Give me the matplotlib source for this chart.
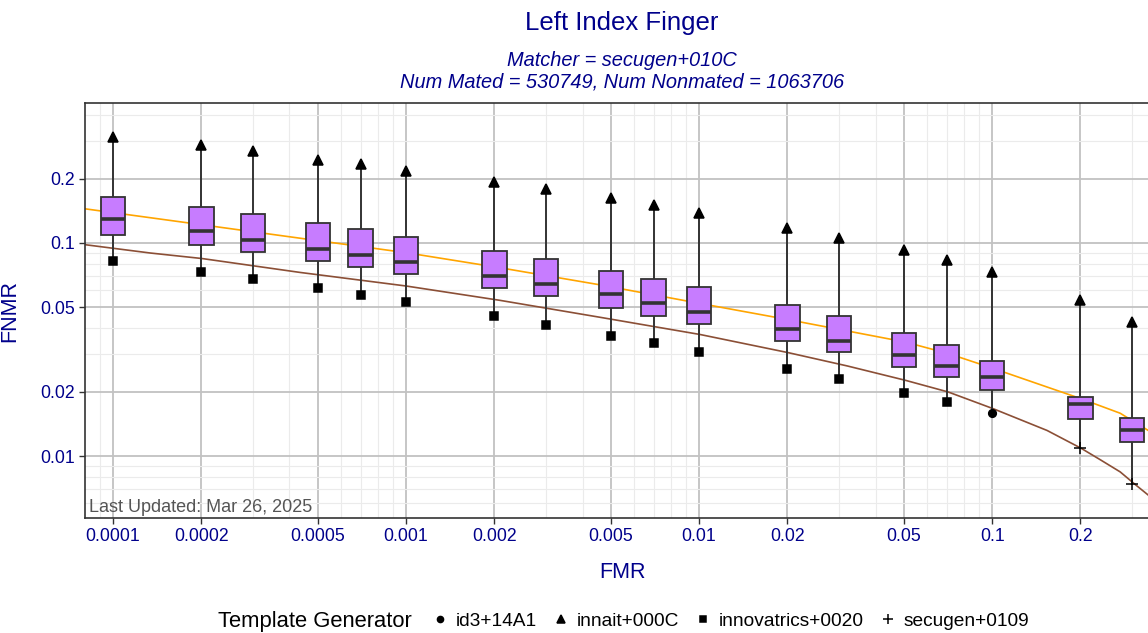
import numpy as np
import matplotlib
matplotlib.use('Agg')
import matplotlib.pyplot as plt
from matplotlib.patches import Rectangle
from matplotlib.lines import Line2D
from matplotlib.ticker import FixedLocator, NullFormatter

plt.rcParams['font.family'] = ['Liberation Sans', 'DejaVu Sans']

# FNMR summary per FMR threshold (across template generators)
fmr = [0.0001, 0.0002, 0.0003, 0.0005, 0.0007, 0.001, 0.002, 0.003, 0.005,
       0.007, 0.01, 0.02, 0.03, 0.05, 0.07, 0.1, 0.2, 0.3]
worst = [0.314, 0.287, 0.269, 0.246, 0.234, 0.218, 0.193, 0.179, 0.162,
         0.150, 0.138, 0.118, 0.106, 0.0924, 0.0830, 0.0727, 0.0539, 0.0426]
q3 = [0.164, 0.147, 0.136, 0.124, 0.116, 0.107, 0.0914, 0.0839, 0.0737,
      0.0681, 0.0620, 0.0511, 0.0453, 0.0379, 0.0332, 0.0278, 0.0189, 0.0151]
med = [0.130, 0.114, 0.103, 0.0937, 0.0882, 0.0815, 0.0700, 0.0642, 0.0575,
       0.0522, 0.0475, 0.0393, 0.0346, 0.0298, 0.0266, 0.0235, 0.0176, 0.0133]
q1 = [0.1095, 0.0983, 0.0907, 0.0827, 0.0769, 0.0716, 0.0615, 0.0561, 0.0496,
      0.0455, 0.0416, 0.0345, 0.0308, 0.0261, 0.0234, 0.0205, 0.0150, 0.0116]
best = [0.0823, 0.0731, 0.0678, 0.0615, 0.0571, 0.0529, 0.0455, 0.0411, 0.0365,
        0.0340, 0.0308, 0.0257, 0.0230, 0.0198, 0.0180, 0.0160, 0.0109, 0.00737]
worst_gen = ['innait+000C'] * 18
best_gen = ['innovatrics+0020'] * 15 + ['id3+14A1', 'secugen+0109', 'secugen+0109']

# reference curves
orange_fmr = [8.03e-5, 1.98e-4, 4.35e-4, 1e-3, 2.09e-3, 4.59e-3, 1.008e-2, 2.01e-2,
              5.05e-2, 7.08e-2, 0.1008, 0.154, 0.201, 0.2735, 0.341]
orange_fnmr = [0.1445, 0.1220, 0.1052, 0.0900, 0.0765, 0.0636, 0.0520, 0.0437,
               0.0343, 0.0303, 0.0258, 0.0211, 0.0186, 0.0159, 0.0132]
brown_fmr = [8.03e-5, 1.337e-4, 2.01e-4, 4.35e-4, 1e-3, 2.09e-3, 4.59e-3, 1.008e-2,
             2.01e-2, 3.2e-2, 5.05e-2, 7.08e-2, 0.1008, 0.154, 0.201,
             0.2337, 0.2735, 0.3076, 0.341]
brown_fnmr = [0.0981, 0.0897, 0.0845, 0.0727, 0.0628, 0.0538, 0.0448, 0.0372,
              0.0306, 0.0265, 0.0227, 0.0200, 0.0167, 0.0132, 0.0109,
              0.00963, 0.00844, 0.00737, 0.00657]

generators = ['id3+14A1', 'innait+000C', 'innovatrics+0020', 'secugen+0109']
markers = {'id3+14A1': ('o', 5.5), 'innait+000C': ('^', 7.5),
           'innovatrics+0020': ('s', 5.5), 'secugen+0109': ('+', 9)}

navy = '#00008B'
edge = '#333333'
fig = plt.figure(figsize=(11.48, 6.33), dpi=100)
ax = fig.add_axes([85 / 1148, 115 / 633, 1075 / 1148, 415 / 633])
ax.set_xscale('log')
ax.set_yscale('log')
ax.set_xlim(8.02e-5, 0.374)
ax.set_ylim(0.00513, 0.453)

# grid
xmaj = [1e-4, 2e-4, 5e-4, 1e-3, 2e-3, 5e-3, 1e-2, 2e-2, 5e-2, 0.1, 0.2]
ymaj = [0.01, 0.02, 0.05, 0.1, 0.2]
xmin_ = [m * d for d in [1e-5, 1e-4, 1e-3, 1e-2, 1e-1] for m in range(1, 10)]
ymin_ = [m * d for d in [1e-3, 1e-2, 1e-1] for m in range(1, 10)]
ax.xaxis.set_major_locator(FixedLocator(xmaj))
ax.yaxis.set_major_locator(FixedLocator(ymaj))
ax.xaxis.set_minor_locator(FixedLocator([v for v in xmin_ if v not in xmaj]))
ax.yaxis.set_minor_locator(FixedLocator([v for v in ymin_ if v not in ymaj]))
ax.xaxis.set_minor_formatter(NullFormatter())
ax.yaxis.set_minor_formatter(NullFormatter())
ax.set_xticklabels(['0.0001', '0.0002', '0.0005', '0.001', '0.002', '0.005',
                    '0.01', '0.02', '0.05', '0.1', '0.2'])
ax.set_yticklabels(['0.01', '0.02', '0.05', '0.1', '0.2'])
ax.grid(which='major', color='#c2c2c2', linewidth=1.3, zorder=0)
ax.grid(which='minor', color='#ebebeb', linewidth=0.8, zorder=0)
ax.set_axisbelow(True)
ax.tick_params(which='major', length=4, width=1, color=edge, labelcolor=navy,
               labelsize=12.7, pad=3)
ax.tick_params(which='minor', length=0)
for s in ax.spines.values():
    s.set_color(edge)
    s.set_linewidth(1.2)

# curves
ax.plot(orange_fmr, orange_fnmr, color='#FFA500', lw=1.2, zorder=2)
ax.plot(brown_fmr, brown_fnmr, color='#8B4F36', lw=1.2, zorder=2)

# boxes
half_w = 0.042  # log10 units
for i, x in enumerate(fmr):
    xl = x / 10 ** half_w
    xr = x * 10 ** half_w
    ax.plot([x, x], [q3[i], worst[i]], color=edge, lw=1.4, zorder=3)
    ax.plot([x, x], [best[i], q1[i]], color=edge, lw=1.4, zorder=3)
    ax.add_patch(Rectangle((xl, q1[i]), xr - xl, q3[i] - q1[i], facecolor='#C77CFF',
                           edgecolor=edge, lw=1.3, zorder=4))
    ax.plot([xl, xr], [med[i], med[i]], color=edge, lw=2.6, zorder=5,
            solid_capstyle='butt')
    for val, g in ((worst[i], worst_gen[i]), (best[i], best_gen[i])):
        m, ms = markers[g]
        ax.plot(x, val, marker=m, ms=ms, color='black', mew=1.1, ls='none', zorder=6)

ax.text(0.004, 0.006, 'Last Updated: Mar 26, 2025', transform=ax.transAxes,
        fontsize=13, color='#555555', ha='left', va='bottom')

ax.set_xlabel('FMR', fontsize=15.5, color=navy)
ax.set_ylabel('FNMR', fontsize=15.5, color=navy)
ax.xaxis.set_label_coords((622 - 85) / 1075, (518 - 562) / 415)
ax.yaxis.set_label_coords((20 - 85) / 1075, 0.5)

cx = 622 / 1148
fig.text(cx, 1 - 23 / 633, 'Left Index Finger', ha='center', va='center',
         fontsize=18.5, color=navy)
fig.text(cx, 1 - 60 / 633, 'Matcher = secugen+010C', ha='center', va='center',
         fontsize=14.4, color=navy, style='italic')
fig.text(cx, 1 - 82 / 633, 'Num Mated = 530749, Num Nonmated = 1063706',
         ha='center', va='center', fontsize=14.4, color=navy, style='italic')

# legend
fig.text(218 / 1148, 1 - 621 / 633, 'Template Generator', ha='left', va='center',
         fontsize=15.8, color='black')
handles = [Line2D([], [], ls='none', marker=markers[g][0], ms=markers[g][1] * 0.8,
                  color='black', mew=1.1) for g in generators]
fig.legend(handles, generators, loc='center left', bbox_to_anchor=(430 / 1148, 1 - 621 / 633),
           ncol=4, frameon=False, fontsize=13.8, handlelength=1.0, handletextpad=0.33,
           columnspacing=0.75, borderpad=0, borderaxespad=0)

fig.savefig('out.png', dpi=100)
